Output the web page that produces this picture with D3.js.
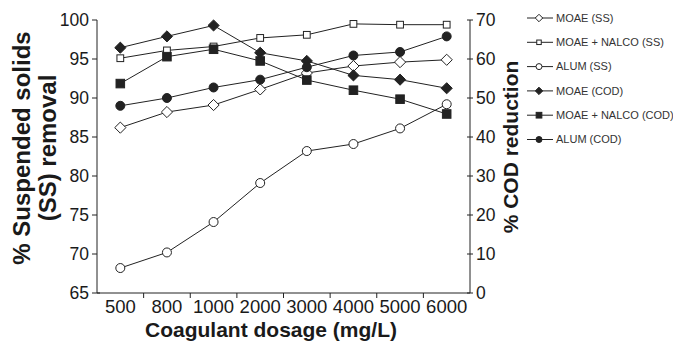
<!DOCTYPE html>
<html>
<head>
<meta charset="utf-8">
<script src="https://cdn.jsdelivr.net/npm/d3@7"></script>
<style>
  body { margin: 0; background: #fff; }
  text { font-family: "Liberation Sans", Arial, sans-serif; fill: #1a1a1a; }
</style>
</head>
<body>
<div id="chart"></div>
<script>
// dosage categories (mg/L)
const dosages = ['500', '800', '1000', '2000', '3000', '4000', '5000', '6000'];

// % suspended solids removal (left axis)
const moaeSS      = [86.2, 88.2, 89.1, 91.1, 93.2, 94.1, 94.6, 94.9];
const moaeNalcoSS = [95.1, 96.1, 96.6, 97.7, 98.1, 99.5, 99.4, 99.4];
const alumSS      = [68.2, 70.2, 74.1, 79.1, 83.2, 84.1, 86.1, 89.2];

// % COD reduction (right axis)
const moaeCOD      = [62.9, 65.8, 68.6, 61.6, 59.5, 55.8, 54.7, 52.5];
const moaeNalcoCOD = [53.7, 60.6, 62.5, 59.5, 54.6, 52.0, 49.7, 45.9];
const alumCOD      = [48.0, 50.0, 52.7, 54.7, 57.9, 60.9, 61.8, 65.8];

const ssTicks  = [65, 70, 75, 80, 85, 90, 95, 100];
const codTicks = [0, 10, 20, 30, 40, 50, 60, 70];

const series = [
  {name: 'MOAE (SS)',           values: moaeSS,       axis: 'ss',  shape: 'diamond', fill: false},
  {name: 'MOAE + NALCO (SS)',   values: moaeNalcoSS,  axis: 'ss',  shape: 'square',  fill: false},
  {name: 'ALUM (SS)',           values: alumSS,       axis: 'ss',  shape: 'circle',  fill: false},
  {name: 'MOAE (COD)',          values: moaeCOD,      axis: 'cod', shape: 'diamond', fill: true},
  {name: 'MOAE + NALCO (COD)',  values: moaeNalcoCOD, axis: 'cod', shape: 'square',  fill: true},
  {name: 'ALUM (COD)',          values: alumCOD,      axis: 'cod', shape: 'circle',  fill: true}
];

const W = 673, H = 343;
const margin = {top: 20, right: 203, bottom: 50, left: 97};
const plotW = W - margin.left - margin.right;
const plotH = H - margin.top - margin.bottom;

const svg = d3.select('#chart').append('svg')
  .attr('width', W).attr('height', H);

const g = svg.append('g')
  .attr('transform', 'translate(' + margin.left + ',' + margin.top + ')');

const x = d3.scaleBand().domain(dosages).range([0, plotW]);
const ySS = d3.scaleLinear().domain([65, 100]).range([plotH, 0]);
const yCOD = d3.scaleLinear().domain([0, 70]).range([plotH, 0]);

const ink = '#222';

// x axis with ticks at band boundaries
const xAxis = g.append('g').attr('transform', 'translate(0,' + plotH + ')');
xAxis.append('line').attr('x1', 0).attr('x2', plotW).attr('stroke', ink);
xAxis.selectAll('.tk').data(dosages.slice(1)).enter().append('line')
  .attr('x1', d => x(d)).attr('x2', d => x(d))
  .attr('y1', 0).attr('y2', 5).attr('stroke', ink);
xAxis.selectAll('text').data(dosages).enter().append('text')
  .attr('x', d => x(d) + x.bandwidth() / 2)
  .attr('y', 20)
  .attr('text-anchor', 'middle')
  .style('font-size', '18.5px')
  .text(d => d);

// left axis
const yl = g.append('g');
yl.append('line').attr('y1', 0).attr('y2', plotH).attr('stroke', ink);
yl.selectAll('line.tk').data(ssTicks).enter().append('line')
  .attr('class', 'tk')
  .attr('x1', -5).attr('x2', d => d === 65 ? 3 : 0)
  .attr('y1', d => ySS(d)).attr('y2', d => ySS(d)).attr('stroke', ink);
yl.selectAll('text').data(ssTicks).enter().append('text')
  .attr('x', -8).attr('y', d => ySS(d)).attr('dy', '0.36em')
  .attr('text-anchor', 'end')
  .style('font-size', '17.5px')
  .text(d => d);

// right axis
const yr = g.append('g').attr('transform', 'translate(' + plotW + ',0)');
yr.append('line').attr('y1', 0).attr('y2', plotH).attr('stroke', ink);
yr.selectAll('line.tk').data(codTicks).enter().append('line')
  .attr('class', 'tk')
  .attr('x1', -3).attr('x2', 3)
  .attr('y1', d => yCOD(d)).attr('y2', d => yCOD(d)).attr('stroke', ink);
yr.selectAll('text').data(codTicks).enter().append('text')
  .attr('x', 6).attr('y', d => yCOD(d)).attr('dy', '0.36em')
  .style('font-size', '17.5px')
  .text(d => d);

// axis titles
svg.append('text')
  .attr('x', 271).attr('y', 337)
  .attr('text-anchor', 'middle')
  .style('font-size', '21px').style('font-weight', 'bold')
  .text('Coagulant dosage (mg/L)');

const lt = svg.append('text')
  .attr('transform', 'translate(30,148) rotate(-90)')
  .attr('text-anchor', 'middle')
  .style('font-size', '24px').style('font-weight', 'bold');
lt.append('tspan').attr('x', 0).attr('y', 0).text('% Suspended solids');
lt.append('tspan').attr('x', 0).attr('y', 26).text('(SS) removal');

svg.append('text')
  .attr('transform', 'translate(518,147) rotate(-90)')
  .attr('text-anchor', 'middle')
  .style('font-size', '21px').style('font-weight', 'bold')
  .text('% COD reduction');

// marker drawing
function marker(sel, s, size) {
  if (s.shape === 'circle') {
    sel.append('circle').attr('r', size * 0.5)
      .attr('fill', s.fill ? ink : '#fff').attr('stroke', ink).attr('stroke-width', 1);
  } else if (s.shape === 'square') {
    const a = s.fill ? size * 0.95 : size * 0.75;
    sel.append('rect').attr('x', -a / 2).attr('y', -a / 2).attr('width', a).attr('height', a)
      .attr('fill', s.fill ? ink : '#fff').attr('stroke', ink).attr('stroke-width', 1);
  } else {
    const r = size * 0.62;
    sel.append('path').attr('d', 'M0,' + (-r) + 'L' + r + ',0L0,' + r + 'L' + (-r) + ',0Z')
      .attr('fill', s.fill ? ink : '#fff').attr('stroke', ink).attr('stroke-width', 1);
  }
}

const line = d3.line();
series.forEach(s => {
  const yy = s.axis === 'ss' ? ySS : yCOD;
  const pts = s.values.map((v, i) => [x(dosages[i]) + x.bandwidth() / 2, yy(v)]);
  g.append('path').attr('d', line(pts))
    .attr('fill', 'none').attr('stroke', ink).attr('stroke-width', 1);
  pts.forEach(p => {
    const m = g.append('g').attr('transform', 'translate(' + p[0] + ',' + p[1] + ')');
    marker(m, s, 9);
  });
});

// legend
const legend = svg.append('g').attr('transform', 'translate(527,18)');
series.forEach((s, i) => {
  const row = legend.append('g').attr('transform', 'translate(0,' + (i * 24.3) + ')');
  row.append('line').attr('x1', 0).attr('x2', 26).attr('stroke', ink);
  const m = row.append('g').attr('transform', 'translate(12,0)');
  marker(m, s, 6);
  row.append('text').attr('x', 29).attr('dy', '0.35em')
    .style('font-size', '11px').style('fill', '#333')
    .text(s.name);
});
</script>
</body>
</html>
